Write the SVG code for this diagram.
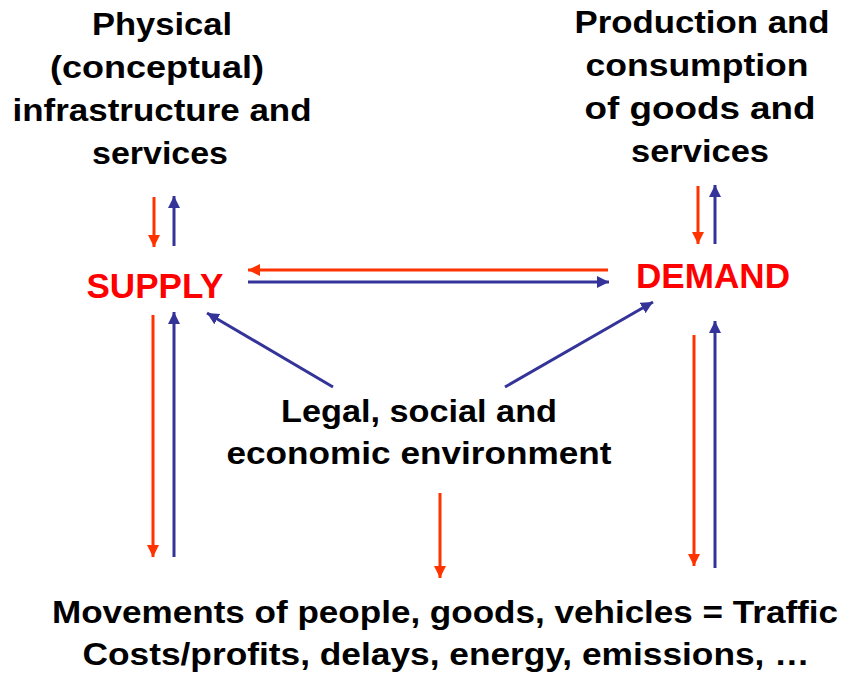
<svg xmlns="http://www.w3.org/2000/svg" width="844" height="675" viewBox="0 0 844 675">
  <style>
    .lbl { font-family: "Liberation Sans", Arial, sans-serif; font-weight: bold; font-size: 32px; fill: #000; text-anchor: middle; }
    .key { font-family: "Liberation Sans", Arial, sans-serif; font-weight: bold; font-size: 35px; fill: #FF0000; text-anchor: middle; }
    .r { stroke: #FF3300; stroke-width: 3; fill: none; marker-end: url(#headR); }
    .b { stroke: #333399; stroke-width: 3; fill: none; marker-end: url(#headB); }
  </style>
  <defs>
    <marker id="headR" markerUnits="userSpaceOnUse" markerWidth="14" markerHeight="12" refX="12" refY="6" orient="auto">
      <path d="M0,0 L12,6 L0,12 Z" fill="#FF3300"/>
    </marker>
    <marker id="headB" markerUnits="userSpaceOnUse" markerWidth="14" markerHeight="12" refX="12" refY="6" orient="auto">
      <path d="M0,0 L12,6 L0,12 Z" fill="#333399"/>
    </marker>
  </defs>
  <rect width="844" height="675" fill="#FFFFFF"/>

  <g id="infrastructure">
    <text class="lbl" x="162" y="35" textLength="140" lengthAdjust="spacingAndGlyphs">Physical</text>
    <text class="lbl" x="157" y="78" textLength="214" lengthAdjust="spacingAndGlyphs">(conceptual)</text>
    <text class="lbl" x="162" y="121" textLength="299" lengthAdjust="spacingAndGlyphs">infrastructure and</text>
    <text class="lbl" x="160" y="164" textLength="136" lengthAdjust="spacingAndGlyphs">services</text>
  </g>

  <g id="production">
    <text class="lbl" x="702" y="33" textLength="255" lengthAdjust="spacingAndGlyphs">Production and</text>
    <text class="lbl" x="697" y="76" textLength="223" lengthAdjust="spacingAndGlyphs">consumption</text>
    <text class="lbl" x="700" y="119" textLength="231" lengthAdjust="spacingAndGlyphs">of goods and</text>
    <text class="lbl" x="700" y="162" textLength="138" lengthAdjust="spacingAndGlyphs">services</text>
  </g>

  <g id="supply">
    <text class="key" x="155" y="298" textLength="137" lengthAdjust="spacingAndGlyphs">SUPPLY</text>
  </g>

  <g id="demand">
    <text class="key" x="713" y="288" textLength="154" lengthAdjust="spacingAndGlyphs">DEMAND</text>
  </g>

  <g id="environment">
    <text class="lbl" x="419" y="422" textLength="276" lengthAdjust="spacingAndGlyphs">Legal, social and</text>
    <text class="lbl" x="419" y="464" textLength="385" lengthAdjust="spacingAndGlyphs">economic environment</text>
  </g>

  <g id="traffic">
    <text class="lbl" x="445" y="623" textLength="786" lengthAdjust="spacingAndGlyphs">Movements of people, goods, vehicles = Traffic</text>
    <text class="lbl" x="446" y="665" textLength="727" lengthAdjust="spacingAndGlyphs">Costs/profits, delays, energy, emissions, …</text>
  </g>

  <g id="connectors">
    <!-- infrastructure <-> supply -->
    <line class="r" x1="154" y1="197" x2="154" y2="247"/>
    <line class="b" x1="174" y1="246" x2="174" y2="196"/>
    <!-- production <-> demand -->
    <line class="r" x1="698" y1="186" x2="698" y2="244"/>
    <line class="b" x1="715" y1="244" x2="715" y2="185"/>
    <!-- supply <-> demand -->
    <line class="r" x1="608" y1="270" x2="248" y2="270"/>
    <line class="b" x1="248" y1="282" x2="609" y2="282"/>
    <!-- environment -> supply / demand -->
    <line class="b" x1="333" y1="387" x2="207" y2="313"/>
    <line class="b" x1="505" y1="387" x2="653" y2="302"/>
    <!-- supply <-> traffic -->
    <line class="r" x1="153" y1="315" x2="153" y2="557"/>
    <line class="b" x1="174" y1="557" x2="174" y2="312"/>
    <!-- demand <-> traffic -->
    <line class="r" x1="694" y1="335" x2="694" y2="566"/>
    <line class="b" x1="715" y1="568" x2="715" y2="321"/>
    <!-- environment -> traffic -->
    <line class="r" x1="440" y1="493" x2="440" y2="578"/>
  </g>
</svg>
